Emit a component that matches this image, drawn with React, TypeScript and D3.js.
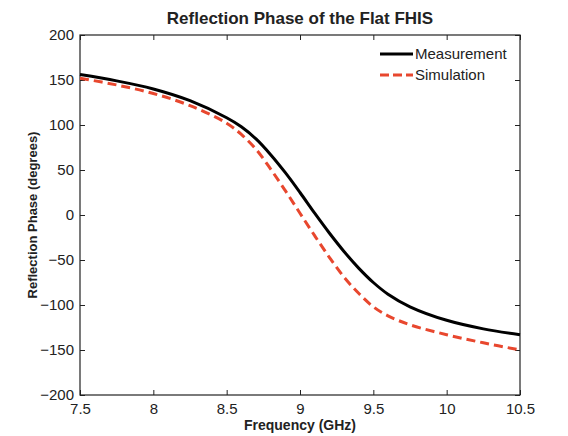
import React, { useEffect, useRef } from 'react';
import * as d3 from 'd3';

const freq = [7.5, 7.75, 8.0, 8.25, 8.5, 8.6, 8.7, 8.8, 8.9, 9.0, 9.1, 9.2, 9.3, 9.4, 9.5, 9.6, 9.75, 10.0, 10.25, 10.5];
const measurement = [156, 149, 140, 127, 108, 98, 84.5, 67, 47, 25, 2, -20, -40.5, -59, -75, -88, -102, -117, -126.5, -133];
const simulation = [152, 144.5, 135, 121.5, 102, 89.5, 73, 51, 27, 2, -23, -47, -69, -87, -102, -112, -122, -133, -142, -150];
const xTicks = [7.5, 8, 8.5, 9, 9.5, 10, 10.5];
const yTicks = [-200, -150, -100, -50, 0, 50, 100, 150, 200];
const seriesNames = ['Measurement', 'Simulation'];

const App = () => {
  const svgRef = useRef<SVGSVGElement>(null);

  useEffect(() => {
    const W = 568, H = 436;
    const margin = { top: 35, right: 48, bottom: 41, left: 80 };
    const width = W - margin.left - margin.right;
    const height = H - margin.top - margin.bottom;
    const font = 'Liberation Sans, Arial, sans-serif';

    const root = d3.select(svgRef.current);
    root.selectAll('*').remove();
    root.attr('width', W).attr('height', H).style('background', '#fff');

    const svg = root.append('g').attr('transform', `translate(${margin.left},${margin.top})`);

    const x = d3.scaleLinear().domain([7.5, 10.5]).range([0, width]);
    const y = d3.scaleLinear().domain([-200, 200]).range([height, 0]);

    // box with inward ticks on all four sides
    const axisStyle = (g: any) => {
      g.select('.domain').remove();
      g.selectAll('.tick line').attr('stroke', '#222').attr('stroke-width', 1);
      g.selectAll('text').attr('font-family', font).attr('font-size', 15).attr('fill', '#222');
    };

    svg.append('g').attr('transform', `translate(0,${height})`)
      .call(d3.axisBottom(x).tickValues(xTicks).tickFormat(d3.format('')).tickSizeInner(-5).tickPadding(8))
      .call(axisStyle);
    svg.append('g')
      .call(d3.axisTop(x).tickValues(xTicks).tickSizeInner(-5).tickFormat(() => ''))
      .call(axisStyle);
    svg.append('g')
      .call(d3.axisLeft(y).tickValues(yTicks).tickSizeInner(-5).tickPadding(6))
      .call(axisStyle);
    svg.append('g').attr('transform', `translate(${width},0)`)
      .call(d3.axisRight(y).tickValues(yTicks).tickSizeInner(-5).tickFormat(() => ''))
      .call(axisStyle);

    svg.append('rect')
      .attr('width', width).attr('height', height)
      .attr('fill', 'none').attr('stroke', '#222').attr('stroke-width', 1.2);

    const line = d3.line<number>()
      .x((d, i) => x(freq[i]))
      .y(d => y(d))
      .curve(d3.curveCatmullRom.alpha(0.5));

    svg.append('path').datum(simulation)
      .attr('fill', 'none').attr('stroke', '#e8472e').attr('stroke-width', 3)
      .attr('stroke-dasharray', '9,5').attr('d', line);
    svg.append('path').datum(measurement)
      .attr('fill', 'none').attr('stroke', '#000').attr('stroke-width', 3).attr('d', line);

    // legend
    const legend = svg.append('g').attr('transform', `translate(${width - 140},19)`);
    seriesNames.forEach((name, i) => {
      const row = legend.append('g').attr('transform', `translate(0,${i * 21})`);
      row.append('line').attr('x1', 0).attr('x2', 33).attr('y1', 0).attr('y2', 0)
        .attr('stroke', i === 0 ? '#000' : '#e8472e').attr('stroke-width', 3)
        .attr('stroke-dasharray', i === 0 ? null : '9,4');
      row.append('text').attr('x', 35).attr('y', 5)
        .attr('font-family', font).attr('font-size', 15).attr('fill', '#222').text(name);
    });

    root.append('text').attr('x', margin.left + width / 2).attr('y', 24)
      .attr('text-anchor', 'middle').attr('font-family', font).attr('font-size', 17)
      .attr('font-weight', 'bold').attr('fill', '#222').text('Reflection Phase of the Flat FHIS');

    root.append('text').attr('x', margin.left + width / 2).attr('y', 430)
      .attr('text-anchor', 'middle').attr('font-family', font).attr('font-size', 14)
      .attr('font-weight', 'bold').attr('fill', '#222').text('Frequency (GHz)');

    root.append('text')
      .attr('transform', `translate(37,${margin.top + height / 2}) rotate(-90)`)
      .attr('text-anchor', 'middle').attr('font-family', font).attr('font-size', 13)
      .attr('font-weight', 'bold').attr('fill', '#222').text('Reflection Phase (degrees)');
  }, []);

  return <svg ref={svgRef} style={{ position: 'absolute', left: 0, top: 0 }}></svg>;
};

export default App;
